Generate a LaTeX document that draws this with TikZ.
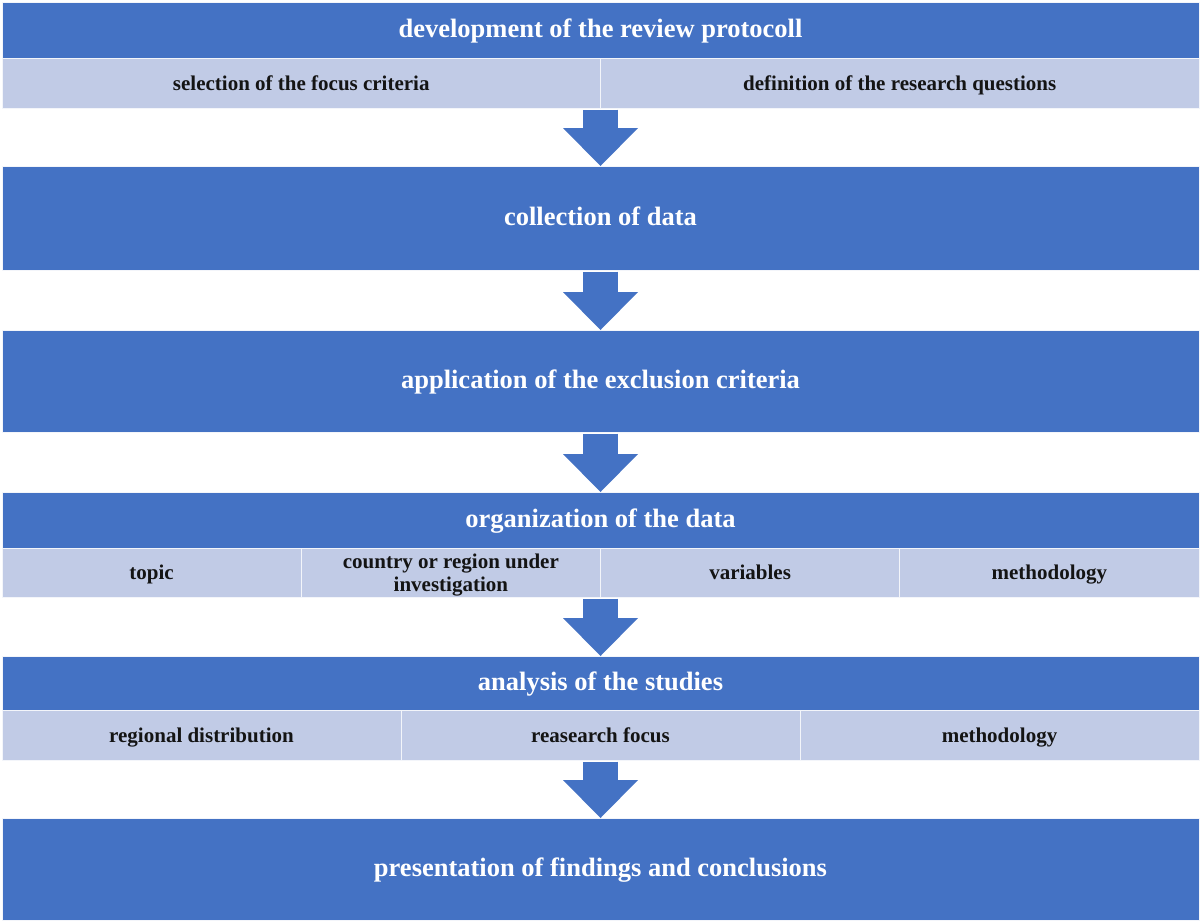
\documentclass[tikz,border=0pt]{standalone}
\usepackage{fontspec}
\setmainfont{Liberation Serif}
\usetikzlibrary{arrows.meta}
\definecolor{dblue}{RGB}{68,114,196}
\definecolor{lblue}{RGB}{193,203,230}
\definecolor{ink}{RGB}{20,20,20}
\begin{document}
\begin{tikzpicture}[x=1pt,y=-1pt,
  cell/.style={rectangle, draw=white!80!lblue, line width=0.8pt, inner sep=0pt, outer sep=0pt, anchor=north west, align=center},
  head/.style={cell, fill=dblue, text=white, font=\bfseries\fontsize{26.5}{30}\selectfont, minimum width=1197pt, text height=14.6pt, text depth=0pt},
  sub/.style={cell, fill=lblue, text=ink, font=\bfseries\fontsize{21}{22.6}\selectfont, text height=14.6pt, text depth=0pt},
  flow/.style={draw=dblue, line width=35pt, -{Triangle[width=75pt,length=38pt,line width=0pt]}, shorten <=1.5pt}
]
\useasboundingbox (0,0) rectangle (1200,921);
\fill[white] (0,0) rectangle (1200,921);

% stage 1
\node[head, minimum height=56pt] (b1) at (2,2) {development of the review protocoll};
\node[sub, minimum width=598.5pt, minimum height=50pt] (b1a) at (2,58) {selection of the focus criteria};
\node[sub, minimum width=598.5pt, minimum height=50pt] (b1b) at (600.5,58) {definition of the research questions};

% stage 2
\node[head, minimum height=104pt] (b2) at (2,166) {collection of data};

% stage 3
\node[head, minimum height=102pt] (b3) at (2,330) {application of the exclusion criteria};

% stage 4
\node[head, minimum height=56pt] (b4) at (2,492) {organization of the data};
\node[sub, minimum width=299.25pt, minimum height=49pt] (b4a) at (2,548) {topic};
\node[sub, minimum width=299.25pt, minimum height=49pt, text height=37.2pt, text depth=0pt] (b4b) at (301.25,548) {country or region under\\investigation};
\node[sub, minimum width=299.25pt, minimum height=49pt] (b4c) at (600.5,548) {variables};
\node[sub, minimum width=299.25pt, minimum height=49pt] (b4d) at (899.75,548) {methodology};

% stage 5
\node[head, minimum height=54pt] (b5) at (2,656) {analysis of the studies};
\node[sub, minimum width=399pt, minimum height=50pt] (b5a) at (2,710) {regional distribution};
\node[sub, minimum width=399pt, minimum height=50pt] (b5b) at (401,710) {reasearch focus};
\node[sub, minimum width=399pt, minimum height=50pt] (b5c) at (800,710) {methodology};

% stage 6
\node[head, minimum height=102pt] (b6) at (2,818) {presentation of findings and conclusions};

% arrows
\draw[flow] (b1a.south east) -- (b2.north);
\draw[flow] (b2.south) -- (b3.north);
\draw[flow] (b3.south) -- (b4.north);
\draw[flow] (b4b.south east) -- (b5.north);
\draw[flow] (b5b.south) -- (b6.north);
\end{tikzpicture}
\end{document}
